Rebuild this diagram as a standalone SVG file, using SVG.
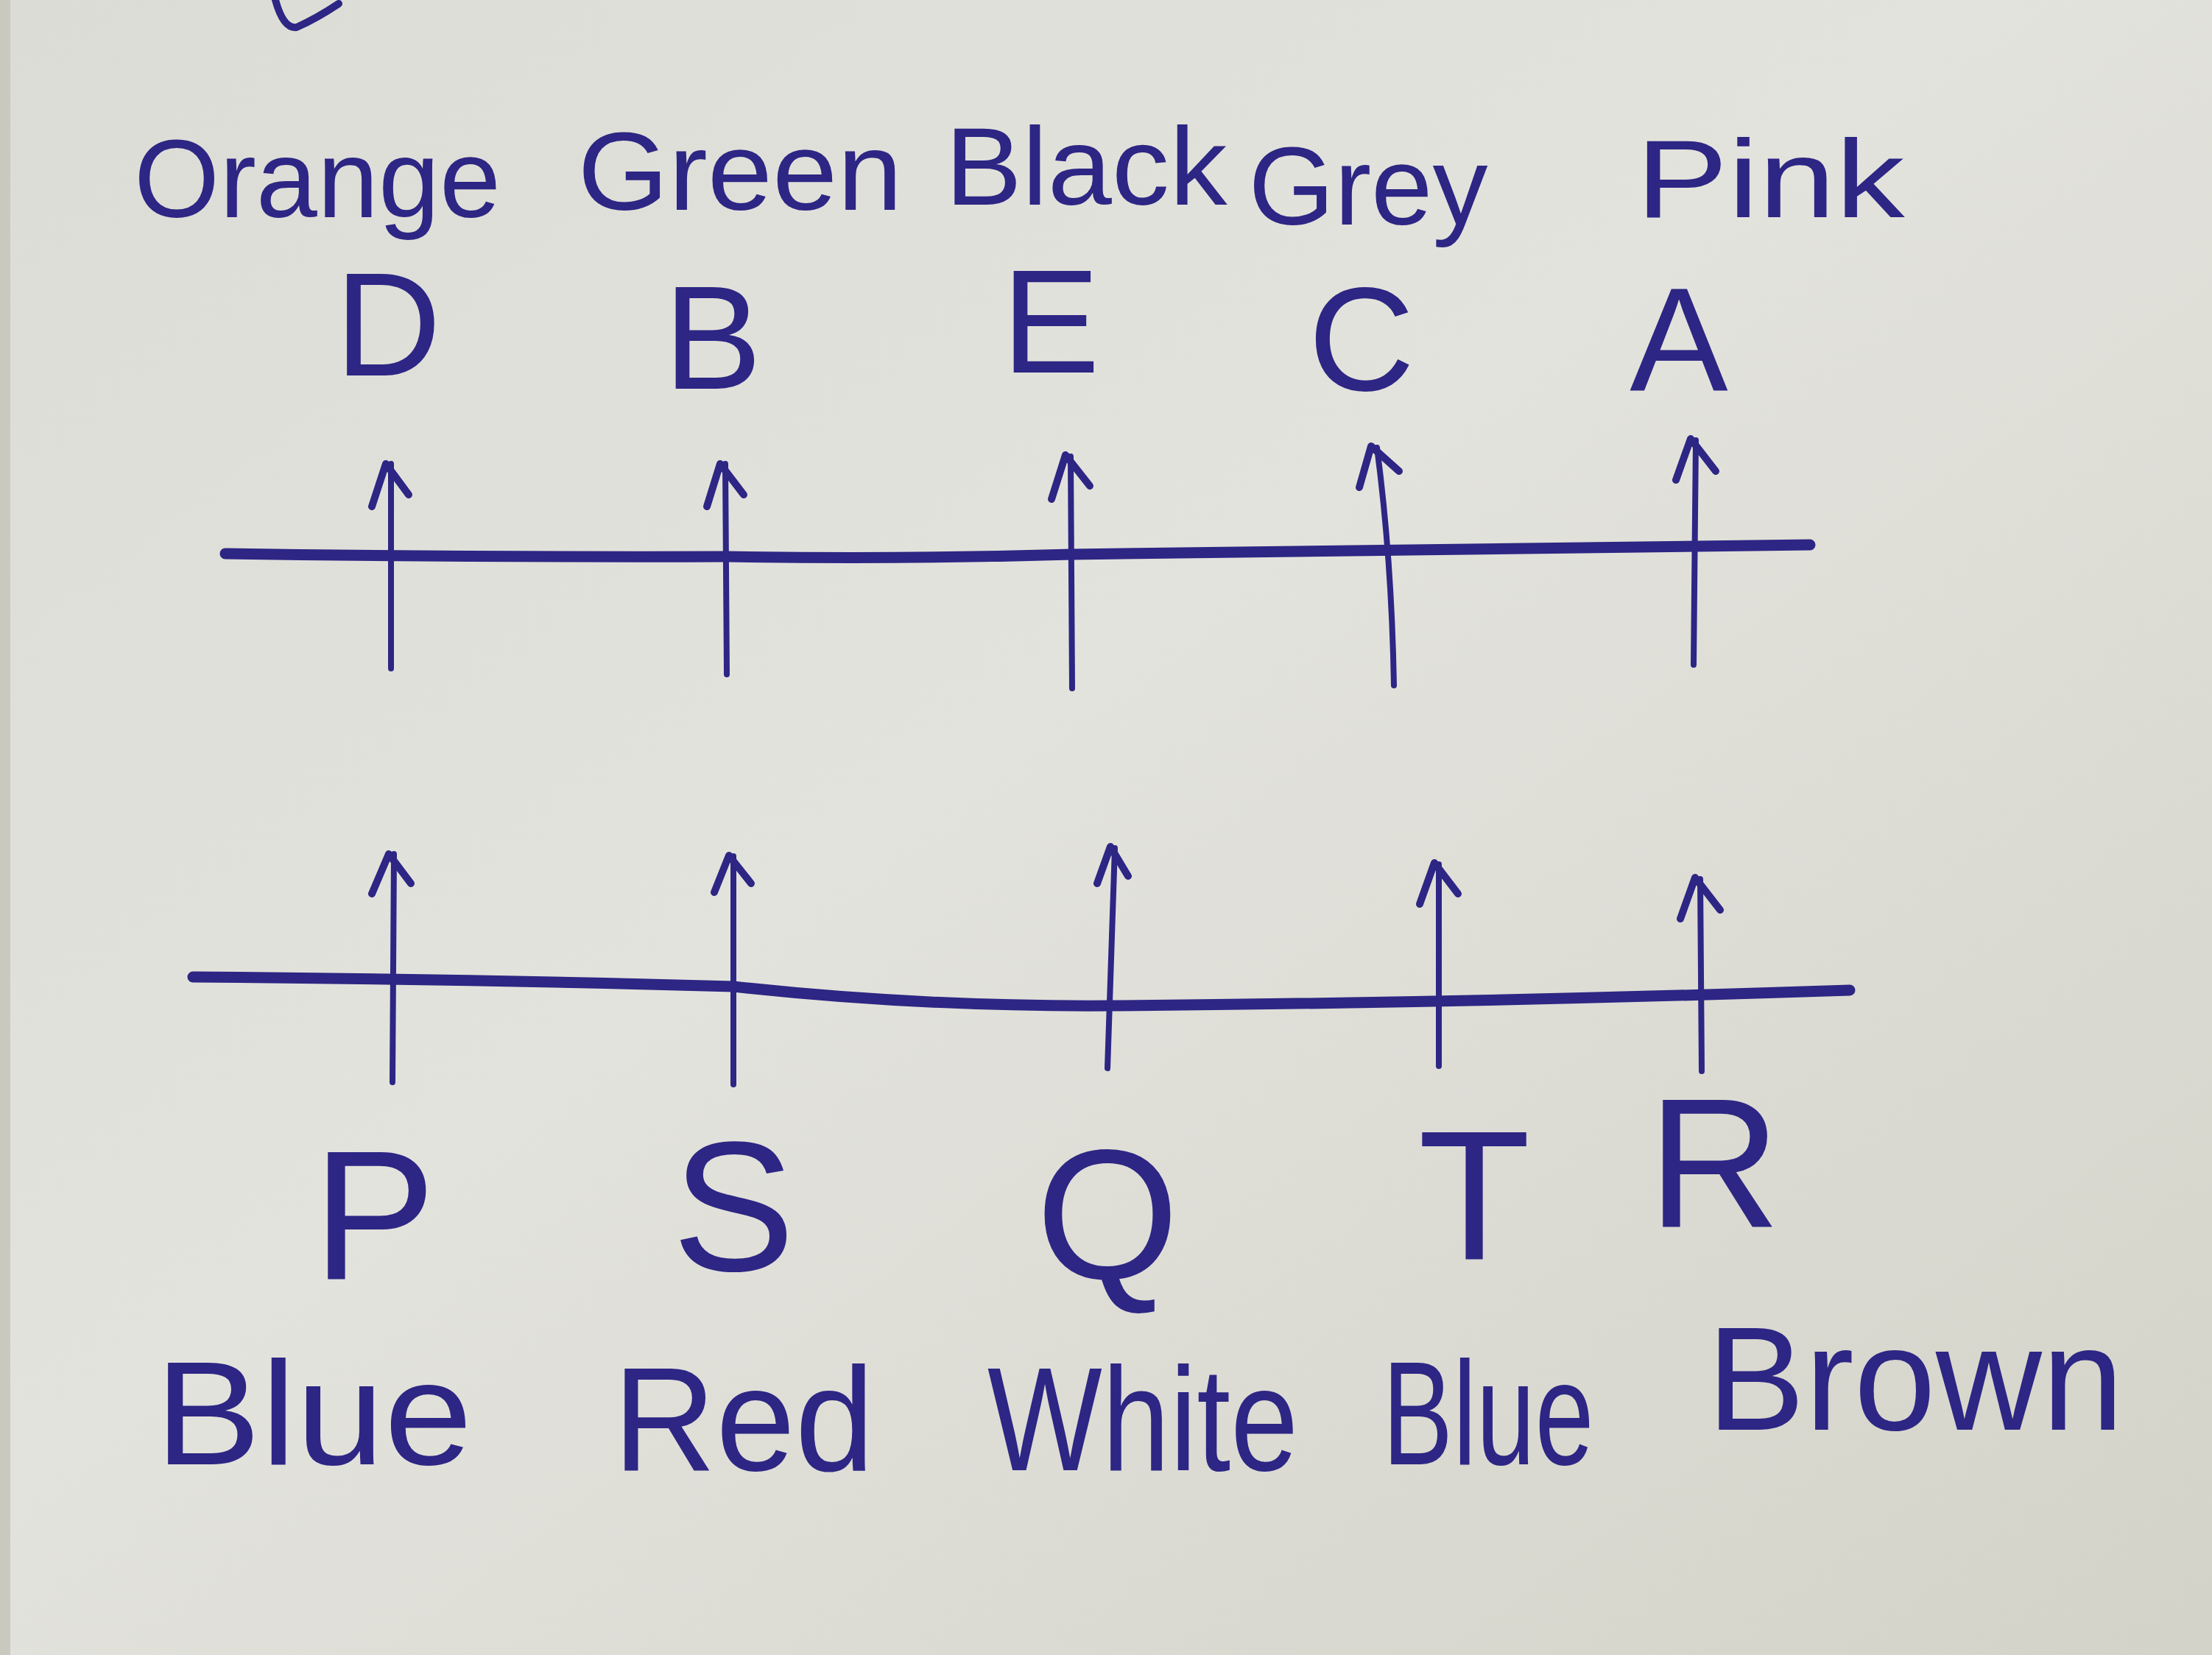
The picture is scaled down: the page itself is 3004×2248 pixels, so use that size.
<svg xmlns="http://www.w3.org/2000/svg" width="3004" height="2248" viewBox="0 0 3004 2248">
<defs>
<linearGradient id="paper" x1="0" y1="0" x2="1" y2="1">
<stop offset="0" stop-color="#dcdcd6"/>
<stop offset="0.45" stop-color="#e3e3dd"/>
<stop offset="1" stop-color="#d3d3c9"/>
</linearGradient>
<style>
.ink{fill:none;stroke:#2d2684;stroke-linecap:round;stroke-linejoin:round}
.axis{stroke-width:15}
.shaft{stroke-width:8}
.head{stroke-width:10}
.lbl{font-family:"Liberation Sans","DejaVu Sans",sans-serif;fill:#2d2684;text-anchor:middle}
.letter{font-size:200px}
.letter2{font-size:250px}
.word{font-size:150px}
.word2{font-size:200px}
</style>
</defs>
<rect x="0" y="0" width="3004" height="2248" fill="url(#paper)"/>
<rect x="0" y="0" width="14" height="2248" fill="#c9c9c0"/>
<path class="ink head" d="M374 0 Q385 40 403 37 Q430 25 460 5"/>

<g id="connectors">
<path class="ink axis" d="M306 752 Q640 757 987 756 Q1220 760 1456 753 Q1960 746 2458 740"/>
<path class="ink axis" d="M262 1327 Q650 1330 996 1340 Q1250 1368 1514 1366 Q2000 1362 2512 1345"/>
<g id="upper-arrows">
<path class="ink shaft" d="M531 908 L531 630"/><path class="ink head" d="M505 688 L524 630 L555 672"/>
<path class="ink shaft" d="M987 916 L985 630"/><path class="ink head" d="M960 688 L978 630 L1010 672"/>
<path class="ink shaft" d="M1456 935 L1454 620"/><path class="ink head" d="M1428 678 L1447 618 L1480 660"/>
<path class="ink shaft" d="M1893 931 Q1890 760 1870 608"/><path class="ink head" d="M1846 662 L1862 606 L1900 640"/>
<path class="ink shaft" d="M2300 903 L2303 598"/><path class="ink head" d="M2276 652 L2296 596 L2330 640"/>
</g>
<g id="lower-arrows">
<path class="ink shaft" d="M533 1470 L535 1160"/><path class="ink head" d="M505 1214 L528 1160 L558 1200"/>
<path class="ink shaft" d="M996 1473 L996 1163"/><path class="ink head" d="M970 1212 L990 1162 L1020 1200"/>
<path class="ink shaft" d="M1504 1451 L1514 1152"/><path class="ink head" d="M1490 1200 L1508 1150 L1532 1190"/>
<path class="ink shaft" d="M1954 1448 L1954 1174"/><path class="ink head" d="M1928 1228 L1948 1172 L1980 1214"/>
<path class="ink shaft" d="M2311 1455 L2309 1194"/><path class="ink head" d="M2282 1248 L2302 1192 L2336 1236"/>
</g>
</g>

<g id="node-D"><text class="lbl word" x="431" y="295" textLength="498" lengthAdjust="spacingAndGlyphs">Orange</text><text class="lbl letter" x="527" y="510">D</text></g>
<g id="node-B"><text class="lbl word" x="1005" y="285" textLength="441" lengthAdjust="spacingAndGlyphs">Green</text><text class="lbl letter" x="968" y="528">B</text></g>
<g id="node-E"><text class="lbl word" x="1475" y="278" textLength="383" lengthAdjust="spacingAndGlyphs">Black</text><text class="lbl letter" x="1427" y="506">E</text></g>
<g id="node-C"><text class="lbl word" x="1858" y="305" textLength="325" lengthAdjust="spacingAndGlyphs">Grey</text><text class="lbl letter" x="1849" y="530">C</text></g>
<g id="node-A"><text class="lbl word" x="2404" y="295" textLength="365" lengthAdjust="spacingAndGlyphs">Pink</text><text class="lbl letter" x="2280" y="530">A</text></g>

<g id="node-P"><text class="lbl letter2" x="508" y="1737">P</text><text class="lbl word2" x="426" y="1989" textLength="431" lengthAdjust="spacingAndGlyphs">Blue</text></g>
<g id="node-S"><text class="lbl letter2" x="996" y="1726">S</text><text class="lbl word2" x="1010" y="1997" textLength="355" lengthAdjust="spacingAndGlyphs">Red</text></g>
<g id="node-Q"><text class="lbl letter2" x="1504" y="1737">Q</text><text class="lbl word2" x="1552" y="1997" textLength="422" lengthAdjust="spacingAndGlyphs">White</text></g>
<g id="node-T"><text class="lbl letter2" x="2002" y="1711">T</text><text class="lbl word2" x="2021" y="1989" textLength="287" lengthAdjust="spacingAndGlyphs">Blue</text></g>
<g id="node-R"><text class="lbl letter2" x="2328" y="1667">R</text><text class="lbl word2" x="2601" y="1942" textLength="566" lengthAdjust="spacingAndGlyphs">Brown</text></g>
</svg>
